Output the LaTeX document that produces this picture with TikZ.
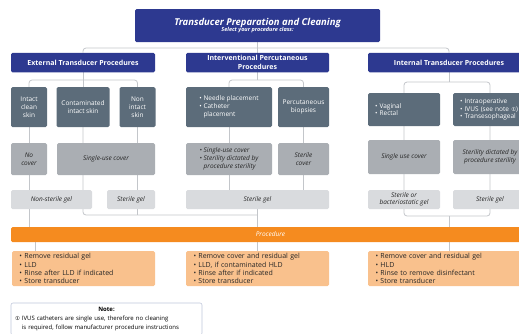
\documentclass[tikz,border=0pt]{standalone}
\usepackage{fontspec}
\setmainfont{Open Sans}
\newfontfamily\symfont{DejaVu Sans}
\usetikzlibrary{calc,backgrounds}

\definecolor{navy}{HTML}{2D3990}
\definecolor{slate}{HTML}{5C6C7A}
\definecolor{midgrey}{HTML}{AAAEB3}
\definecolor{palegrey}{HTML}{D9DBDE}
\definecolor{orangebar}{HTML}{F58B1F}
\definecolor{orangebox}{HTML}{F9C18D}
\definecolor{linkgrey}{HTML}{C3C6CA}
\definecolor{noteline}{HTML}{BFC6DA}

\newcommand{\notemark}{{\symfont\fontsize{5.5}{6}\selectfont ①}}

\tikzset{
  box/.style={rectangle, rounded corners=1.5pt, inner sep=2pt, align=center, font=\fontsize{6.5}{7.8}\selectfont},
  head/.style={box, fill=navy, text=white, inner sep=1pt, font=\bfseries\fontsize{7}{8.5}\selectfont},
  stage/.style={box, fill=slate, text=white},
  cover/.style={box, fill=midgrey, text=black!85, font=\itshape\fontsize{6.5}{7.8}\selectfont},
  gel/.style={box, fill=palegrey, text=black!85, font=\itshape\fontsize{6.5}{7.5}\selectfont},
  task/.style={box, fill=orangebox, text=black!85, inner xsep=7.5pt, align=left, font=\fontsize{7}{8.1}\selectfont},
  link/.style={draw=linkgrey, line width=0.8pt, rounded corners=3pt},
}

\begin{document}
\begin{tikzpicture}[x=1pt, y=-1pt]
\useasboundingbox (0,0) rectangle (519,333);
\clip (0,0) rectangle (519,333);

% title and the three procedure classes
\node[box, fill=navy, text=white, minimum width=245, minimum height=33] (title) at (257.5,25.5)
  {{\bfseries\itshape\fontsize{9.5}{11}\selectfont Transducer Preparation and Cleaning}\\[-1pt]
   {\bfseries\itshape\fontsize{5.5}{6.5}\selectfont Select your procedure class:}};
\node[head, minimum width=144, minimum height=19.5] (ext) at (83,62.5) {External Transducer Procedures};
\node[head, minimum width=143, minimum height=19.5] (intv) at (257.5,62.5) {Interventional Percutaneous\\Procedures};
\node[head, minimum width=162, minimum height=19.5] (int) at (449,62.5) {Internal Transducer Procedures};

% kind of contact
\node[stage, minimum width=36, minimum height=40] (intact) at (29,107) {Intact\\clean\\skin};
\node[stage, minimum width=53, minimum height=40] (contam) at (83,107) {Contaminated\\intact skin};
\node[stage, minimum width=36, minimum height=40] (nonint) at (137.5,107) {Non\\intact\\skin};
\node[stage, minimum width=86, minimum height=40, align=left] (needle) at (229,107)
  {\textbullet\ Needle placement\\\textbullet\ Catheter\\\phantom{\textbullet\ }placement};
\node[stage, minimum width=51, minimum height=40] (biop) at (303.5,107) {Percutaneous\\biopsies};
\node[stage, minimum width=72, minimum height=33, inner xsep=7pt, text width=58, align=left] (vagin) at (404,109.5)
  {\textbullet\ Vaginal\\\textbullet\ Rectal};
\node[stage, minimum width=74, minimum height=33, inner xsep=7pt, text width=60, align=left] (intra) at (490,109.5)
  {\textbullet\ Intraoperative\\\textbullet\ IVUS (see note \notemark)\\\textbullet\ Transesophageal};

% covers
\node[cover, minimum width=36, minimum height=32] (nocov) at (29,159) {No\\cover};
\node[cover, minimum width=98, minimum height=32] (single) at (106,159) {Single-use cover};
\node[cover, minimum width=86, minimum height=32, align=left] (scover) at (229,159)
  {\textbullet\ Single-use cover\\\textbullet\ Sterility dictated by\\\phantom{\textbullet\ }procedure sterility};
\node[cover, minimum width=51, minimum height=32] (stcover) at (303.5,159) {Sterile\\cover};
\node[cover, minimum width=72, minimum height=34] (ucover) at (404,157) {Single use cover};
\node[cover, minimum width=74, minimum height=34] (dcover) at (490,157) {Sterility dictated by\\procedure sterility};

% gels
\node[gel, minimum width=81, minimum height=19] (nsgel) at (51.5,199.5) {Non-sterile gel};
\node[gel, minimum width=48, minimum height=19] (sgel1) at (131,199.5) {Sterile gel};
\node[gel, minimum width=143, minimum height=19] (sgel2) at (257.5,199.5) {Sterile gel};
\node[gel, minimum width=72, minimum height=19] (bgel) at (404,199.5) {Sterile or\\bacteriostatic gel};
\node[gel, minimum width=74, minimum height=19] (sgel3) at (490,199.5) {Sterile gel};

% after the procedure
\node[box, fill=orangebar, text=white, font=\itshape\fontsize{6.5}{7.5}\selectfont,
  minimum width=519, minimum height=15] (bar) at (270.5,234.5) {Procedure};
\node[task, minimum width=143, minimum height=35, text width=128] (rem1) at (83.5,268.5)
  {\textbullet\ Remove residual gel\\\textbullet\ LLD\\\textbullet\ Rinse after LLD if indicated\\\textbullet\ Store transducer};
\node[task, minimum width=143, minimum height=35, text width=128] (rem2) at (257.5,268.5)
  {\textbullet\ Remove cover and residual gel\\\textbullet\ LLD, if contaminated HLD\\\textbullet\ Rinse after if indicated\\\textbullet\ Store transducer};
\node[task, minimum width=162, minimum height=35, text width=147] (rem3) at (449,268.5)
  {\textbullet\ Remove cover and residual gel\\\textbullet\ HLD\\\textbullet\ Rinse to remove disinfectant\\\textbullet\ Store transducer};

\node[draw=noteline, line width=0.6pt, rounded corners=2pt, minimum width=191, minimum height=32,
  inner xsep=4pt, text width=183, align=left, font=\fontsize{6}{9}\selectfont] (note) at (106.5,319)
  {\makebox[\linewidth]{\bfseries Note:}\\
   \notemark\ IVUS catheters are single use, therefore no cleaning\\
   \phantom{\notemark\ }is required, follow manufacturer procedure instructions};

% connectors
\coordinate (jtop) at (257.5,48);
\coordinate (jext) at (83,80);
\coordinate (jintv) at (257.5,80);
\coordinate (jin) at (449,82);
\coordinate (jgel) at (257.5,215);
\coordinate (jgelr) at (449,216);
\coordinate (jrem) at ([xshift=24pt]rem1.north west);
\begin{scope}[on background layer]
\draw[link] (ext) |- (jtop) -| (int);
\draw[link] (title) -- (intv);
\draw[link] (intact) |- (jext) -| (nonint);
\draw[link] (ext) -- (contam);
\draw[link] (needle) |- (jintv) -| (biop);
\draw[link] (intv) -- (jintv);
\draw[link] (vagin) |- (jin) -| (intra);
\draw[link] (int) -- (jin);
\draw[link] (intact) -- (intact |- bar);
\draw[link] (contam) |- (jgel);
\draw[link] (nonint) -- (nonint |- jgel);
\draw[link] (needle) -- (needle |- sgel2);
\draw[link] (biop) -- (biop |- sgel2);
\draw[link] (sgel2) -- (sgel2 |- bar);
\draw[link] (vagin) |- (jgelr) -| (intra);
\draw[link] (jgelr) -- (jgelr |- bar);
\draw[link] (jrem) -- (jrem |- bar);
\draw[link] (rem2) -- (rem2 |- bar);
\draw[link] (rem3) -- (rem3 |- bar);
\end{scope}
\end{tikzpicture}
\end{document}
